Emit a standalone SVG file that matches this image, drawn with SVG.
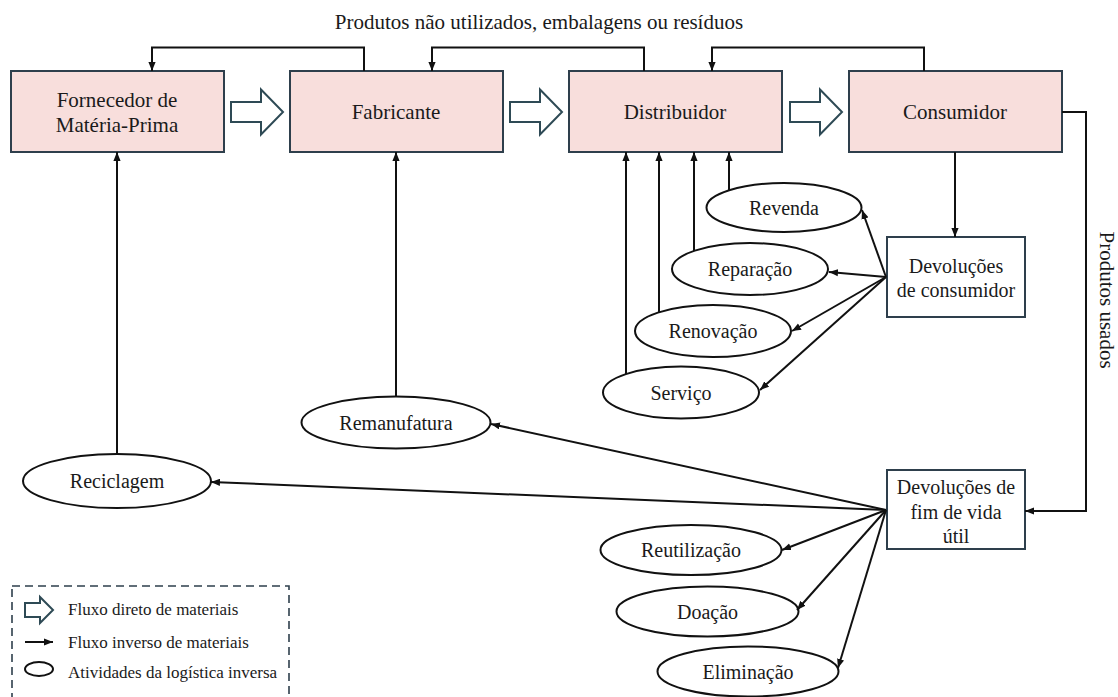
<svg xmlns="http://www.w3.org/2000/svg" width="1118" height="697" viewBox="0 0 1118 697" font-family="'Liberation Serif', 'Times New Roman', serif">
  <style>
    text { font-family: "Liberation Serif", "Times New Roman", serif; fill: #1a1a1a; }
    .lbl { font-size: 21px; text-anchor: middle; }
    .sm { font-size: 20px; text-anchor: middle; }
    .leg { font-size: 17px; }
    .stage { fill: #F8DEDC; stroke: #2E3F4C; stroke-width: 2; }
    .ret { fill: #ffffff; stroke: #2E3F4C; stroke-width: 2; }
    .act { fill: #ffffff; stroke: #111111; stroke-width: 2; }
    .flow { fill: #ffffff; stroke: #2E4A55; stroke-width: 2; stroke-linejoin: miter; }
    .link { fill: none; stroke: #111111; stroke-width: 2; }
    .arr { marker-end: url(#head); }
  </style>
  <defs>
    <marker id="head" viewBox="0 0 10 8" refX="10" refY="4" markerWidth="9" markerHeight="7.5" markerUnits="userSpaceOnUse" orient="auto">
      <path d="M0,0 L10,4 L0,8 z" fill="#111111"/>
    </marker>
  </defs>

  <rect width="1118" height="697" fill="#ffffff"/>

  <!-- top caption -->
  <text class="lbl" x="539" y="29">Produtos não utilizados, embalagens ou resíduos</text>

  <!-- supply chain stages -->
  <g id="fornecedor">
    <rect class="stage" x="11" y="71" width="213" height="81"/>
    <text class="lbl" x="117" y="107">Fornecedor de</text>
    <text class="lbl" x="117" y="132">Matéria-Prima</text>
  </g>
  <g id="fabricante">
    <rect class="stage" x="290" y="71" width="213" height="81"/>
    <text class="lbl" x="396" y="119">Fabricante</text>
  </g>
  <g id="distribuidor">
    <rect class="stage" x="569" y="71" width="213" height="81"/>
    <text class="lbl" x="675" y="119">Distribuidor</text>
  </g>
  <g id="consumidor">
    <rect class="stage" x="849" y="71" width="213" height="81"/>
    <text class="lbl" x="955" y="119">Consumidor</text>
  </g>

  <!-- forward flow arrows -->
  <g id="forward-flow">
    <polygon class="flow" points="231,102 261,102 261,89.5 283,112 261,134.5 261,122 231,122"/>
    <polygon class="flow" points="510,102 540,102 540,89.5 562,112 540,134.5 540,122 510,122"/>
    <polygon class="flow" points="790,102 820,102 820,89.5 842,112 820,134.5 820,122 790,122"/>
  </g>

  <!-- return boxes -->
  <g id="devolucoes-consumidor">
    <rect class="ret" x="887" y="237" width="138" height="80"/>
    <text class="sm" x="956" y="273">Devoluções</text>
    <text class="sm" x="956" y="297">de consumidor</text>
  </g>
  <g id="devolucoes-fim-vida">
    <rect class="ret" x="887" y="470" width="138" height="79"/>
    <text class="sm" x="956" y="494">Devoluções de</text>
    <text class="sm" x="956" y="519">fim de vida</text>
    <text class="sm" x="956" y="543">útil</text>
  </g>

  <!-- reverse logistics activities -->
  <g id="revenda">
    <ellipse class="act" cx="784" cy="207.5" rx="77.5" ry="24.5"/>
    <text class="sm" x="784" y="215">Revenda</text>
  </g>
  <g id="reparacao">
    <ellipse class="act" cx="750" cy="269" rx="78" ry="26"/>
    <text class="sm" x="750" y="276">Reparação</text>
  </g>
  <g id="renovacao">
    <ellipse class="act" cx="713" cy="331" rx="78" ry="26"/>
    <text class="sm" x="713" y="338">Renovação</text>
  </g>
  <g id="servico">
    <ellipse class="act" cx="681" cy="392.5" rx="78" ry="26"/>
    <text class="sm" x="681" y="400">Serviço</text>
  </g>
  <g id="remanufatura">
    <ellipse class="act" cx="396" cy="422.5" rx="94.5" ry="26"/>
    <text class="sm" x="396" y="430">Remanufatura</text>
  </g>
  <g id="reciclagem">
    <ellipse class="act" cx="117" cy="481" rx="94" ry="27"/>
    <text class="sm" x="117" y="488">Reciclagem</text>
  </g>
  <g id="reutilizacao">
    <ellipse class="act" cx="691" cy="550" rx="90.5" ry="25"/>
    <text class="sm" x="691" y="557">Reutilização</text>
  </g>
  <g id="doacao">
    <ellipse class="act" cx="707.5" cy="611.5" rx="91" ry="25"/>
    <text class="sm" x="707.5" y="618.5">Doação</text>
  </g>
  <g id="eliminacao">
    <ellipse class="act" cx="748" cy="671.5" rx="90.5" ry="25"/>
    <text class="sm" x="748" y="678.5">Eliminação</text>
  </g>

  <!-- reverse flow connectors -->
  <g id="connectors">
    <!-- unused products / packaging returned upstream -->
    <path class="link arr" d="M364,71 V47.5 H152 V71"/>
    <path class="link arr" d="M644,71 V47.5 H432 V71"/>
    <path class="link arr" d="M924,71 V47.5 H712 V71"/>
    <!-- activities feeding back into the chain -->
    <path class="link arr" d="M117,454 V152"/>
    <path class="link arr" d="M396,396.5 V152"/>
    <path class="link arr" d="M626,374 V152"/>
    <path class="link arr" d="M659,312 V152"/>
    <path class="link arr" d="M694,251 V152"/>
    <path class="link arr" d="M729,190.5 V152"/>
    <!-- consumer returns -->
    <path class="link arr" d="M955,152 V237"/>
    <path class="link arr" d="M886,277 L862,210"/>
    <path class="link arr" d="M886,277 L829,272"/>
    <path class="link arr" d="M886,277 L792,331"/>
    <path class="link arr" d="M886,277 L760,390"/>
    <!-- used products -->
    <path class="link arr" d="M1062,112 H1086 V511 H1025"/>
    <!-- end-of-life returns -->
    <path class="link arr" d="M886,510 L491,424"/>
    <path class="link arr" d="M886,510 L211,482"/>
    <path class="link arr" d="M886,510 L782,550"/>
    <path class="link arr" d="M886,510 L797,610"/>
    <path class="link arr" d="M886,510 L838,668"/>
  </g>
  <text class="lbl" transform="translate(1100,300) rotate(90)" x="0" y="0">Produtos usados</text>

  <!-- legend -->
  <g id="legenda">
    <rect x="12" y="586" width="277" height="125" fill="none" stroke="#2E3F4C" stroke-width="1.6" stroke-dasharray="8,5"/>
    <polygon class="flow" points="25,603 40,603 40,597 53,610 40,623 40,617 25,617"/>
    <text class="leg" x="68" y="615">Fluxo direto de materiais</text>
    <path class="link arr" d="M25,642 H53"/>
    <text class="leg" x="68" y="648">Fluxo inverso de materiais</text>
    <ellipse class="act" cx="39" cy="669" rx="14" ry="7"/>
    <text class="leg" x="68" y="678">Atividades da logística inversa</text>
  </g>
</svg>
